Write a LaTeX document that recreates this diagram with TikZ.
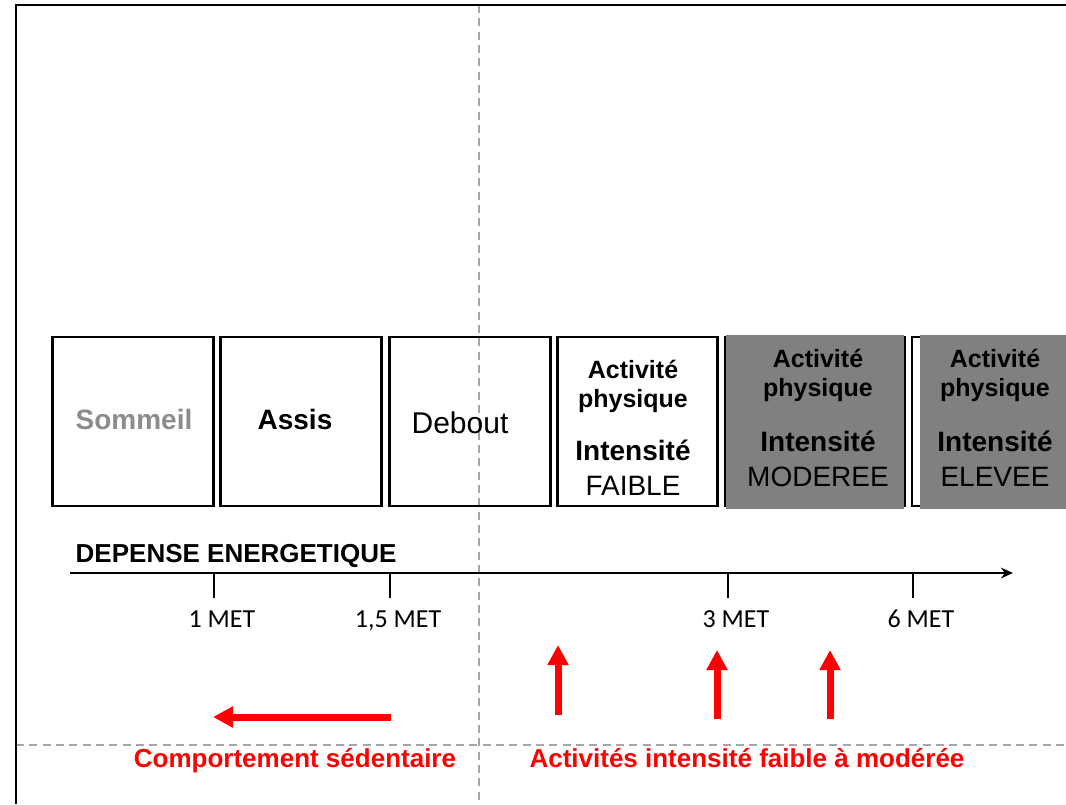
\documentclass[tikz,border=0pt]{standalone}
\usepackage{fontspec}
\setmainfont{Liberation Sans}
\newfontfamily\calib{Carlito}
\usetikzlibrary{arrows.meta,positioning,calc}

\definecolor{boxgray}{HTML}{808080}
\definecolor{sleepgray}{HTML}{8C8C8C}
\definecolor{guidegray}{HTML}{A6A6A6}

\begin{document}
\begin{tikzpicture}[
    x=0.75pt, y=-0.75pt,
    box/.style={rectangle, draw, line width=1.7pt, minimum height=126.75pt, inner sep=0pt, outer sep=0pt},
    guide/.style={guidegray, line width=1pt, dash pattern=on 6pt off 4pt},
    frm/.style={line width=1.5pt},
    axis/.style={line width=2.2pt, -{Stealth[length=9pt,width=8pt]}},
    tck/.style={line width=1.6pt},
    redarr/.style={red, line width=5.25pt, -{Triangle[length=15pt,width=15pt]}},
    big/.style={font=\fontsize{21}{25}\selectfont\bfseries, anchor=base},
    actl/.style={font=\fontsize{18.75}{22}\selectfont\bfseries, anchor=base},
    intl/.style={font=\fontsize{21}{25}\selectfont\bfseries, anchor=base},
    levl/.style={font=\fontsize{21}{25}\selectfont, anchor=base},
    met/.style={font=\calib\fontsize{19.5}{23}\selectfont, anchor=base},
    redl/.style={red, font=\fontsize{19.5}{23}\selectfont\bfseries, anchor=base}
  ]
  \useasboundingbox (0,0) rectangle (1066,804);

  %% Guide lines and frame
  \coordinate (vg1) at (479,5);
  \coordinate (vg2) at (479,804);
  \coordinate (hg1) at (16,745);
  \coordinate (hg2) at (1066,745);
  \draw[guide] (vg1) -- (vg2);
  \draw[guide] (hg1) -- (hg2);
  \coordinate (fr1) at (16,804);
  \coordinate (fr2) at (16,5);
  \coordinate (fr3) at (1066,5);
  \draw[frm] (fr1) -- (fr2) -- (fr3);

  %% Posture boxes
  \node[box, minimum width=120.75pt] (sleep) at (133,421.5) {};
  \node[box, minimum width=120.75pt] (sit)   at (301,421.5) {};
  \node[box, minimum width=120.75pt] (stand) at (470,421.5) {};
  \node[big, sleepgray] (sleept) at (134,429) {Sommeil};
  \node[big] (sitt) at (295,429) {Assis};
  \node[levl, font=\fontsize{22.5}{26}\selectfont] (standt) at (460,433) {Debout};

  %% Activity boxes
  \node[box, minimum width=120pt] (low)  at (637.5,421.5) {};
  \node[box, minimum width=135pt] (mod)  at (815,421.5) {};
  \node[box, minimum width=124.5pt] (high) at (995,421.5) {};
  \fill[boxgray] ($(mod.north west)+(1,-2)$) rectangle ($(mod.south east)+(-1,3)$);
  \fill[boxgray] ($(high.north west)+(8,-2)$) rectangle ($(high.south east)+(0,3)$);

  \foreach \n/\x/\da/\db/\lev in {low/633/378/460/FAIBLE, mod/818/367/451/MODEREE, high/995/367/451/ELEVEE}{
    \node[actl] (\n a) at (\x,\da) {Activité};
    \node[actl] (\n b) at (\x,\da+29) {physique};
    \node[intl] (\n c) at (\x,\db) {Intensité};
    \node[levl] (\n d) at (\x,\db+35) {\lev};
  }

  %% Energy axis
  \coordinate (ax0) at (70,573);
  \coordinate (ax1) at (1013,573);
  \draw[axis] (ax0) -- (ax1);
  \node[anchor=base west, font=\fontsize{19.5}{23}\selectfont\bfseries] (axl) at (71,562) {DEPENSE ENERGETIQUE};
  \foreach \x/\lab [count=\i] in {214/{1 MET}, 390/{1,5 MET}, 728/{3 MET}, 913/{6 MET}}{
    \coordinate (t\i) at (\x,573);
    \coordinate (tb\i) at (\x,598);
    \draw[tck] (t\i) -- (tb\i);
    \node[met] (m\i) at (\x+8,627) {\lab};
  }

  %% Red arrows
  \coordinate (sedA) at (391,717);
  \coordinate (sedB) at (213,717);
  \draw[redarr] (sedA) -- (sedB);
  \foreach \x/\ys/\ye [count=\i] in {558/715/645, 717/719/650, 830/719/650}{
    \coordinate (us\i) at (\x,\ys);
    \coordinate (ue\i) at (\x,\ye);
    \draw[redarr] (us\i) -- (ue\i);
  }

  %% Red labels
  \node[redl] (sedl) at (295,767) {Comportement sédentaire};
  \node[redl] (actl) at (747,767) {Activités intensité faible à modérée};

\end{tikzpicture}
\end{document}
